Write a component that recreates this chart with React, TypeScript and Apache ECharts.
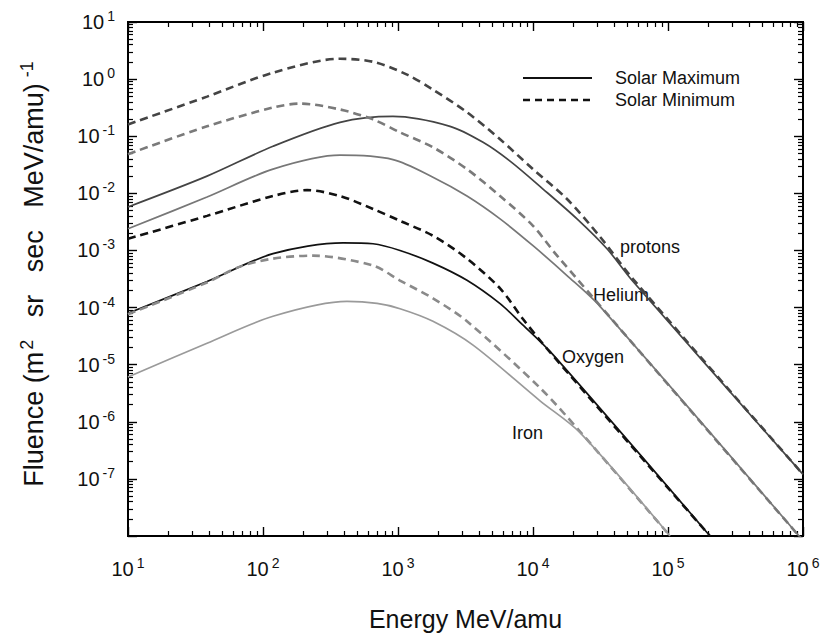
import React, { useEffect, useRef } from "react";
import * as echarts from "echarts";

// ---- Data ----
const protonsMinE = [10, 38.5, 118.6, 372, 653, 1167, 1815, 3243, 5702, 10000, 17860, 31340, 55080, 1e6];
const protonsMinF = [0.161, 0.494, 1.294, 2.27, 2.01, 1.2, 0.655, 0.263, 0.0883, 0.0265, 7.96e-3, 1.74e-3, 3.16e-4, 1.2e-7];

const protonsMaxE = [10, 38.5, 118.6, 372, 918, 2427, 4266, 6761, 11860, 21180, 35320, 55080, 1e6];
const protonsMaxF = [5.78e-3, 0.02, 0.0667, 0.175, 0.222, 0.149, 0.0782, 0.0366, 0.0119, 3.57e-3, 1.07e-3, 2.86e-4, 1.2e-7];

const heliumMinE = [10, 38.5, 118.6, 188, 372, 653, 1035, 1815, 3243, 5702, 10000, 15070, 1e6];
const heliumMinF = [0.0484, 0.149, 0.318, 0.373, 0.294, 0.197, 0.117, 0.064, 0.0265, 8.97e-3, 2.7e-3, 8.11e-4, 8.3e-9];

const heliumMaxE = [10, 38.5, 118.6, 372, 918, 1815, 3243, 5702, 10000, 17860, 31340, 1e6];
const heliumMaxF = [2.39e-3, 8.63e-3, 0.0265, 0.0465, 0.039, 0.0192, 8.97e-3, 3.57e-3, 1.21e-3, 3.64e-4, 1.05e-4, 8.3e-9];

const oxygenMinE = [10, 38.5, 118.6, 212, 372, 653, 1035, 1815, 3243, 5702, 8430, 12706, 204600];
const oxygenMinF = [1.6e-3, 4.03e-3, 8.97e-3, 0.0114, 8.97e-3, 5.33e-3, 3.3e-3, 1.81e-3, 7.19e-4, 2.16e-4, 6.3e-5, 1.9e-5, 1e-8];

const oxygenMaxE = [10, 38.5, 118.6, 392, 653, 1035, 1815, 3243, 5702, 8020, 14060, 204600];
const oxygenMaxF = [7.93e-5, 2.86e-4, 8.79e-4, 1.36e-3, 1.31e-3, 1.0e-3, 6.0e-4, 3.0e-4, 1.17e-4, 5.5e-5, 1.5e-5, 1e-8];

const ironMinE = [10, 38.5, 67.6, 118.6, 234, 653, 1035, 1815, 3243, 11272, 22284, 103500];
const ironMinF = [7.62e-5, 2.75e-4, 5.21e-4, 7.19e-4, 8.11e-4, 5.43e-4, 2.97e-4, 1.45e-4, 5.75e-5, 3.92e-6, 6.76e-7, 1e-8];

const ironMaxE = [10, 38.5, 118.6, 419, 700, 1035, 1815, 3597, 11272, 22284, 103500];
const ironMaxF = [6.1e-6, 2.38e-5, 7.03e-5, 1.28e-4, 1.18e-4, 9.55e-5, 5.75e-5, 2.2e-5, 2.33e-6, 6.46e-7, 1e-8];

const curveLabels = ["protons", "Helium", "Oxygen", "Iron"];
const legendLabels = ["Solar Maximum", "Solar Minimum"];

const FONT = "'Liberation Sans', Arial, Helvetica, sans-serif";
const X_MIN = 10, X_MAX = 1e6, Y_MIN = 1e-8, Y_MAX = 10;

function pairs(e: number[], f: number[]) {
  return e.map((v, i) => [v, f[i]]);
}

export default function App() {
  const ref = useRef<HTMLDivElement>(null);
  useEffect(() => {
    if (!ref.current) return;
    const chart = echarts.init(ref.current, null, { renderer: "svg" });

    const solid = (name: string, e: number[], f: number[], color: string) => ({
      name, type: "line", data: pairs(e, f), smooth: 0.3, symbol: "none", clip: true,
      xAxisIndex: 0, yAxisIndex: 0,
      lineStyle: { color, width: 1.7, type: "solid" }, silent: true,
    });
    const dashed = (name: string, e: number[], f: number[], color: string) => ({
      name, type: "line", data: pairs(e, f), smooth: 0.3, symbol: "none", clip: true,
      xAxisIndex: 0, yAxisIndex: 0,
      lineStyle: { color, width: 2.6, type: [8, 5] }, silent: true,
    });

    const labelRich = {
      b: { fontSize: 20, lineHeight: 26, fontFamily: FONT, color: "#111" },
      s: { fontSize: 14, lineHeight: 14, verticalAlign: "top", fontFamily: FONT, color: "#111", padding: [0, 0, 0, 3] },
    };
    const fmt = (v: number) => `{b|10}{s|${Math.round(Math.log10(v))}}`;

    // native inward ticks; minor ticks split each decade linearly (2..9 x 10^n)
    const majorTick = { show: true, inside: true, length: 9, lineStyle: { color: "#000", width: 1.4 } };
    const minorTick = { show: true, splitNumber: 9, length: 5, lineStyle: { color: "#000", width: 1.2 } };
    const axisBase = {
      type: "log",
      axisLine: { show: false },
      splitLine: { show: false },
      minorSplitLine: { show: false },
      axisTick: majorTick,
      minorTick,
    };

    const txt = (text: string, x: number, y: number) => ({
      type: "text", x, y, silent: true,
      style: { text, fontSize: 18, fontFamily: FONT, fill: "#111", verticalAlign: "middle" },
    });

    chart.setOption({
      animation: false,
      backgroundColor: "#fff",
      grid: { left: 128, right: 22, top: 22, bottom: 97, show: true, borderColor: "#000", borderWidth: 2, backgroundColor: "transparent" },
      xAxis: [
        {
          ...axisBase, min: X_MIN, max: X_MAX, position: "bottom",
          axisLabel: { formatter: fmt, rich: labelRich, margin: 20 },
          name: "Energy MeV/amu", nameLocation: "middle", nameGap: 70,
          nameTextStyle: { fontSize: 25, fontFamily: FONT, color: "#111" },
        },
        { ...axisBase, min: X_MIN, max: X_MAX, position: "top", axisLabel: { show: false } },
      ],
      yAxis: [
        {
          ...axisBase, min: Y_MIN, max: Y_MAX, position: "left",
          axisLabel: { formatter: fmt, rich: labelRich, margin: 13, showMinLabel: false },
        },
        { ...axisBase, min: Y_MIN, max: Y_MAX, position: "right", axisLabel: { show: false } },
      ],
      series: [
        dashed("Protons (Solar Minimum)", protonsMinE, protonsMinF, "#444"),
        solid("Protons (Solar Maximum)", protonsMaxE, protonsMaxF, "#444"),
        dashed("Helium (Solar Minimum)", heliumMinE, heliumMinF, "#7a7a7a"),
        solid("Helium (Solar Maximum)", heliumMaxE, heliumMaxF, "#777"),
        dashed("Oxygen (Solar Minimum)", oxygenMinE, oxygenMinF, "#111"),
        solid("Oxygen (Solar Maximum)", oxygenMaxE, oxygenMaxF, "#111"),
        dashed("Iron (Solar Minimum)", ironMinE, ironMinF, "#8a8a8a"),
        solid("Iron (Solar Maximum)", ironMaxE, ironMaxF, "#9a9a9a"),
      ],
      graphic: [
        { type: "line", silent: true, shape: { x1: 523, y1: 78, x2: 592, y2: 78 }, style: { stroke: "#111", lineWidth: 2.2 } },
        { type: "line", silent: true, shape: { x1: 523, y1: 100, x2: 592, y2: 100 }, style: { stroke: "#111", lineWidth: 2.6, lineDash: [7, 5] } },
        txt(legendLabels[0], 615, 78),
        txt(legendLabels[1], 615, 100),
        txt(curveLabels[0], 620, 247),
        txt(curveLabels[1], 593, 295),
        txt(curveLabels[2], 562, 357),
        txt(curveLabels[3], 512, 433),
        {
          type: "text", x: 34, y: 274, rotation: Math.PI / 2, silent: true,
          style: {
            text: "{a|Fluence (m}{s|2}{a|   sr   sec   MeV/amu)}{t|-1}",
            align: "center", verticalAlign: "middle",
            rich: {
              a: { fontSize: 27, lineHeight: 32, fontFamily: FONT, fill: "#111" },
              s: { fontSize: 18, lineHeight: 18, verticalAlign: "top", fontFamily: FONT, fill: "#111", padding: [0, 0, 0, 2] },
              t: { fontSize: 18, lineHeight: 18, verticalAlign: "top", fontFamily: FONT, fill: "#111", padding: [0, 0, 0, 6] },
            },
          },
        },
      ],
    });

    return () => chart.dispose();
  }, []);
  return <div ref={ref} style={{ position: "fixed", left: 0, top: 0, width: 825, height: 636, background: "#fff" }} />;
}
